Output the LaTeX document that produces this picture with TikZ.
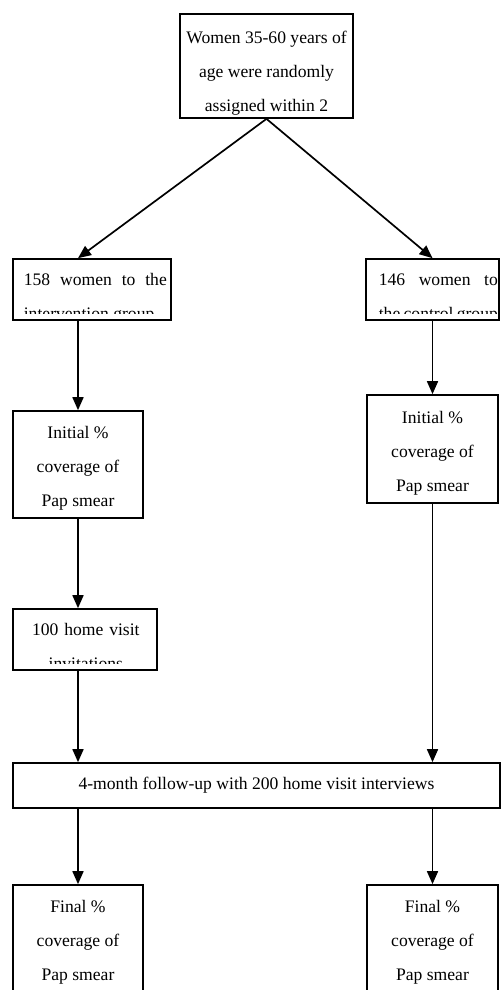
\documentclass[tikz,border=0pt]{standalone}
\usepackage{fontspec}
\setmainfont{Liberation Serif}
\usetikzlibrary{calc}
\usetikzlibrary{arrows.meta}
\tikzset{
  txt/.style = {font=\fontsize{17.6}{34}\selectfont},
  box/.style = {draw=#1, line width=1.7pt, inner sep=0pt, align=center, txt},
  arrow/.style = {color=#1, line width=1.7pt, -{Triangle[length=13pt,width=11pt]}},
  cut text/.style n args = {4}{path picture={
      % text that runs past the bottom edge of its box
      \clip ([yshift=7pt]path picture bounding box.south west) rectangle (path picture bounding box.north east);
      \node[anchor=base west, inner sep=0pt, minimum width=0pt, minimum height=0pt,
        text width=#1, align=#2, txt]
        at ([xshift=#3,yshift=-26pt]path picture bounding box.north west) {#4};
  }}
}

\begin{document}
\begin{tikzpicture}[x=1pt, y=-1pt]

    % Page
    \fill[white] (0,0) rectangle (501,990);
    \useasboundingbox (0,0) rectangle (501,990);

    % Boxes
    \node[box={black}, minimum width=173pt, minimum height=104pt, text height=94pt] (top) at (266.5,66)
      {Women 35-60 years of\\ age were randomly\\ assigned within 2};

    \node[box={black}, minimum width=158pt, minimum height=61pt,
      cut text={143pt}{justify}{10pt}{158 women to the intervention group}] (int) at (92,289.5) {};
    \node[box={black}, minimum width=133pt, minimum height=61pt,
      cut text={119pt}{justify}{12pt}{146 women to the control group}] (ctl) at (432.5,289.5) {};

    \node[box={black}, minimum width=130pt, minimum height=107pt, text height=88pt] (initL) at (78,464.5)
      {Initial \%\\ coverage of\\ Pap smear};
    \node[box={black}, minimum width=131pt, minimum height=108pt, text height=88pt] (initR) at (432.5,449)
      {Initial \%\\ coverage of\\ Pap smear};

    \node[box={black}, minimum width=144pt, minimum height=61pt,
      cut text={124pt}{center}{10pt}{100 home visit invitations}] (visit) at (85,639.5) {};

    \node[box={black}, minimum width=487pt, minimum height=45pt] (follow) at (256.5,785.5)
      {4-month follow-up with 200 home visit interviews};

    \node[box={black}, minimum width=130pt, minimum height=110pt, text height=84pt] (finL) at (78,940)
      {Final \%\\ coverage of\\ Pap smear};
    \node[box={black}, minimum width=131pt, minimum height=110pt, text height=84pt] (finR) at (432.5,940)
      {Final \%\\ coverage of\\ Pap smear};

    % Arrows
    \draw[arrow={black}] (top.south) -- (int.north -| initL.north);
    \draw[arrow={black}] (top.south) -- (ctl.north);

    \draw[arrow={black}] (int.south -| initL.north) -- (initL.north);
    \draw[arrow={black}] (ctl.south) -- (initR.north);

    \draw[arrow={black}] (initL.south) -- (visit.north -| initL.south);
    \draw[arrow={black}] (visit.south -| initL.south) -- (follow.north -| initL.south);
    \draw[arrow={black}] (initR.south) -- (follow.north -| initR.south);

    \draw[arrow={black}] (follow.south -| finL.north) -- (finL.north);
    \draw[arrow={black}] (follow.south -| finR.north) -- (finR.north);

\end{tikzpicture}
\end{document}
